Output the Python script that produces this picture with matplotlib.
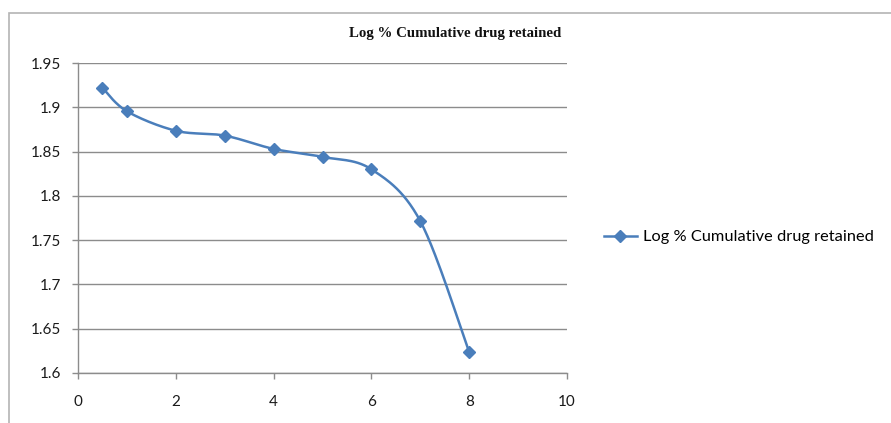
import numpy as np
import matplotlib
matplotlib.use("Agg")
import matplotlib.pyplot as plt
from matplotlib.patches import Rectangle
from matplotlib.ticker import FuncFormatter

# time points and log % cumulative drug retained
time_points = [0.5, 1, 2, 3, 4, 5, 6, 7, 8]
log_retained = [1.922, 1.8955, 1.8735, 1.868, 1.853, 1.844, 1.830, 1.7715, 1.6237]

series_name = "Log % Cumulative drug retained"
x_ticks = [0, 2, 4, 6, 8, 10]
y_ticks = [1.6, 1.65, 1.7, 1.75, 1.8, 1.85, 1.9, 1.95]

blue = "#4A7EBB"
grid_grey = "#8C8C8C"


def smooth_curve(x, y, steps=30):
    # Catmull-Rom style smoothing like a spreadsheet "smoothed line"
    x = np.asarray(x, float)
    y = np.asarray(y, float)
    xs, ys = [x[0]], [y[0]]
    n = len(x)
    for i in range(n - 1):
        p0 = (x[i - 1] if i > 0 else x[i], y[i - 1] if i > 0 else y[i])
        p1 = (x[i], y[i])
        p2 = (x[i + 1], y[i + 1])
        p3 = (x[i + 2] if i + 2 < n else x[i + 1], y[i + 2] if i + 2 < n else y[i + 1])
        c1 = (p1[0] + (p2[0] - p0[0]) / 6, p1[1] + (p2[1] - p0[1]) / 6)
        c2 = (p2[0] - (p3[0] - p1[0]) / 6, p2[1] - (p3[1] - p1[1]) / 6)
        t = np.linspace(0, 1, steps)[1:]
        for a, b in [(0, xs), (1, ys)]:
            b.extend((1 - t) ** 3 * p1[a] + 3 * (1 - t) ** 2 * t * c1[a]
                     + 3 * (1 - t) * t ** 2 * c2[a] + t ** 3 * p2[a])
    return np.array(xs), np.array(ys)


fig = plt.figure(figsize=(8.91, 4.23), dpi=100)
ax = fig.add_axes([78 / 891, 50 / 423, 489 / 891, 310 / 423])

# outer chart frame
fig.patches.append(Rectangle((9 / 891, -0.1), 1.2, (423 - 13) / 423 + 0.1,
                             transform=fig.transFigure, fill=False,
                             edgecolor="#B4B4B4", linewidth=1.2))

sx, sy = smooth_curve(time_points, log_retained)
ax.plot(sx, sy, color=blue, linewidth=1.8, solid_capstyle="round")
ax.plot(time_points, log_retained, linestyle="none", marker="D",
        markersize=5.8, color=blue)

ax.set_xlim(0, 10)
ax.set_ylim(1.6, 1.95)
ax.set_xticks(x_ticks)
ax.set_yticks(y_ticks)
ax.yaxis.set_major_formatter(FuncFormatter(lambda v, p: f"{v:.2f}".rstrip("0").rstrip(".")))

ax.grid(axis="y", color=grid_grey, linewidth=1.0)
ax.set_axisbelow(True)
for side in ["top", "right"]:
    ax.spines[side].set_visible(False)
for side in ["left", "bottom"]:
    ax.spines[side].set_color(grid_grey)
    ax.spines[side].set_linewidth(1.0)

ax.tick_params(axis="both", direction="out", length=4, width=1.0, color=grid_grey,
               labelsize=11, labelcolor="#1a1a1a")
ax.tick_params(axis="x", pad=12)
ax.tick_params(axis="y", pad=8)
for lab in ax.get_xticklabels() + ax.get_yticklabels():
    lab.set_family(["Lato", "DejaVu Sans"])

fig.text(455 / 891, 1 - 34 / 423, series_name, ha="center", va="center",
         family="Liberation Serif", fontweight="bold", fontsize=10.7, color="#111111")

# legend entry on the right
handle = plt.Line2D([], [], color=blue, linewidth=1.8, marker="D", markersize=5.8)
fig.legend([handle], [series_name], loc="center left",
           bbox_to_anchor=(604 / 891, 1 - 237 / 423), frameon=False,
           handlelength=2.0, handletextpad=0.4, borderpad=0, borderaxespad=0,
           prop={"family": "Lato", "size": 11.8})

fig.savefig("out.png", dpi=100, facecolor="white")
